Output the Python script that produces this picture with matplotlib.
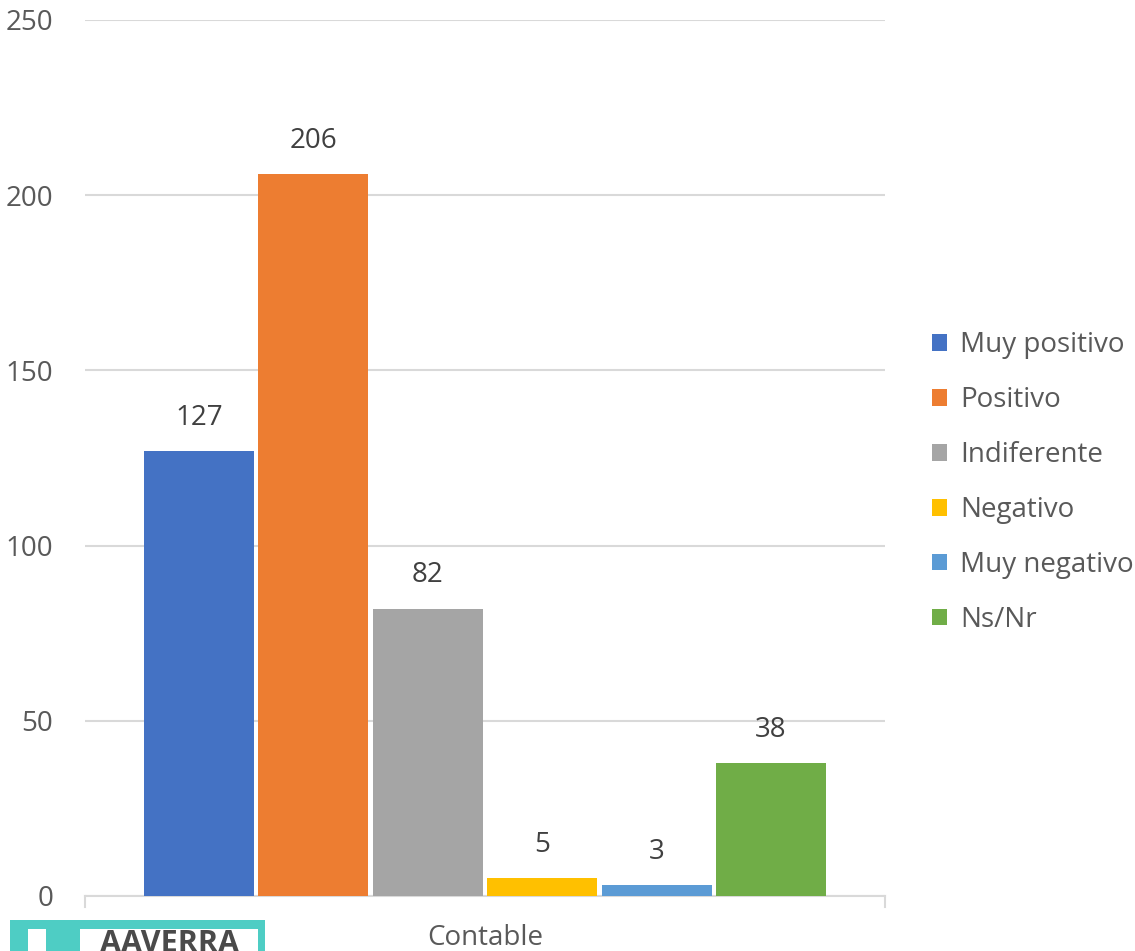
import matplotlib.pyplot as plt
from matplotlib.patches import Rectangle

plt.rcParams['font.family'] = ['Open Sans', 'DejaVu Sans']

# data
category = "Contable"
series = ["Muy positivo", "Positivo", "Indiferente", "Negativo", "Muy negativo", "Ns/Nr"]
values = [127, 206, 82, 5, 3, 38]
colors = ["#4472C4", "#ED7D31", "#A5A5A5", "#FFC000", "#5B9BD5", "#70AD47"]
yticks = [0, 50, 100, 150, 200, 250]

text_col = "#595959"
grid_col = "#D9D9D9"
fs = 20

fig = plt.figure(figsize=(11.35, 9.51), dpi=100)
ax = fig.add_axes([85 / 1135, 1 - 896 / 951, 800 / 1135, 876 / 951])

step = 0.143
width = 0.1375
for i, (name, v, c) in enumerate(zip(series, values, colors)):
    x = (i - 2.5) * step
    ax.bar(x, v, width=width, color=c, label=name, zorder=3)
    ax.text(x, v + 5.5, str(v), ha="center", va="bottom", fontsize=fs, color="#404040")

ax.set_xlim(-0.5, 0.5)
ax.set_ylim(0, 250)
ax.set_yticks(yticks)
ax.set_yticklabels([str(t) for t in yticks], fontsize=fs, color=text_col)
ax.tick_params(axis="y", length=0, pad=23)
ax.yaxis.grid(True, color=grid_col, linewidth=1.5, zorder=0)
ax.set_xticks([])
for s in ["top", "right", "left"]:
    ax.spines[s].set_visible(False)
ax.spines["bottom"].set_color(grid_col)
ax.spines["bottom"].set_linewidth(1.5)

# category boundary ticks
for xb in (-0.5, 0.5):
    ax.plot([xb, xb], [0, -3], color=grid_col, lw=1.5, clip_on=False)
ax.text(0, -8, category, ha="center", va="top", fontsize=fs, color=text_col)

leg = ax.legend(loc="center left", bbox_to_anchor=(1.0275, 0.472), frameon=False,
                fontsize=fs, handlelength=0.55, handleheight=0.55, handletextpad=0.45,
                labelspacing=0.97, labelcolor=text_col)

# logo fragment at the bottom left
logo = "#4ECDC4"
fig.patches.append(Rectangle((10 / 1135, 0), 255 / 1135, 31 / 951, transform=fig.transFigure,
                             facecolor=logo, edgecolor="none"))
fig.patches.append(Rectangle((80 / 1135, 0), 178 / 1135, 22 / 951, transform=fig.transFigure,
                             facecolor="white", edgecolor="none"))
fig.patches.append(Rectangle((28 / 1135, 0), 18 / 1135, 22 / 951, transform=fig.transFigure,
                             facecolor="white", edgecolor="none"))
fig.text(169 / 1135, -0.008, "AAVERRA", ha="center", va="bottom", fontsize=22,
         fontweight="bold", color="#4a4a4a")

fig.savefig("out.png", dpi=100)
